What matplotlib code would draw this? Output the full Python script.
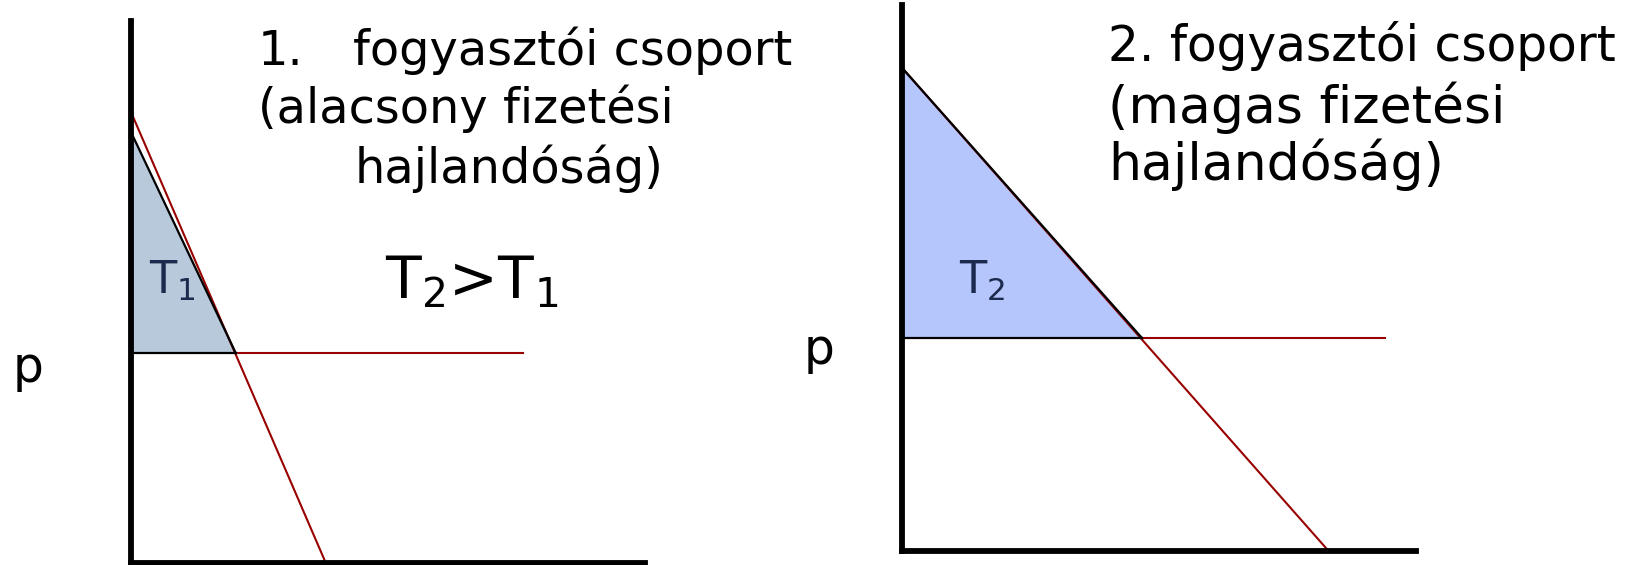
import matplotlib
matplotlib.use("Agg")
import matplotlib.pyplot as plt

plt.rcParams['font.family'] = ['DejaVu Sans']
plt.rcParams['mathtext.default'] = 'regular'

W, H = 1639, 565

# 1. fogyasztói csoport (alacsony fizetési hajlandóság)
kereslet1_q = [0, 3.79]
kereslet1_p = [8.32, 0]
hatar1_q = [0, 2.04]          # fogyasztói többlet felső éle
hatar1_p = [7.95, 3.87]
ar1 = 3.87
ar1_vege = 7.63

# 2. fogyasztói csoport (magas fizetési hajlandóság)
kereslet2_q = [0, 8.3]
kereslet2_p = [8.85, 0]
hatar2_q = [0, 4.67]
hatar2_p = [8.85, 3.90]
ar2 = 3.90
ar2_vege = 9.4

piros = "#990000"


def px(x, y):
    # pixel -> figure fraction
    return x / W, 1 - y / H


def panel(ax, kq, kp, hq, hp, ar, ar_vege, szin):
    ax.set_xlim(0, 10)
    ax.set_ylim(0, 10)
    ax.fill([0, 0, hq[1]], [hp[0], ar, ar], color=szin, lw=0, zorder=1)
    ax.plot(kq, kp, color=piros, lw=1.5, zorder=2)
    ax.plot([hq[1], ar_vege], [ar, ar], color=piros, lw=1.5, zorder=2)
    ax.plot([0, hq[1]], [ar, ar], color="black", lw=1.6, zorder=3)
    ax.plot(hq, hp, color="black", lw=1.6, zorder=3)
    for s in ["top", "right"]:
        ax.spines[s].set_visible(False)
    for s in ["left", "bottom"]:
        ax.spines[s].set_linewidth(4.2)
        ax.spines[s].set_capstyle("projecting")
    ax.set_xticks([])
    ax.set_yticks([])
    ax.patch.set_alpha(0)


fig = plt.figure(figsize=(W / 100, H / 100), dpi=100)

ax1 = fig.add_axes([131 / W, 1 - 563 / H, (645 - 131) / W, (563 - 21) / H])
panel(ax1, kereslet1_q, kereslet1_p, hatar1_q, hatar1_p, ar1, ar1_vege, "#b8c9dc")

ax2 = fig.add_axes([902 / W, 1 - 551 / H, (1416 - 902) / W, (551 - 5) / H])
panel(ax2, kereslet2_q, kereslet2_p, hatar2_q, hatar2_p, ar2, ar2_vege, "#b4c6fb")

# feliratok
fig.text(*px(258, 65), "1.", fontsize=34.5, va="baseline")
fig.text(*px(353, 65), "fogyasztói csoport", fontsize=34.5, va="baseline")
fig.text(*px(258, 123), "(alacsony fizetési", fontsize=34.5, va="baseline")
fig.text(*px(355, 183), "hajlandóság)", fontsize=34.5, va="baseline")
fig.text(*px(385, 298), "T$_2$>T$_1$", fontsize=42, va="baseline")

fig.text(*px(1108, 61), "2. fogyasztói csoport", fontsize=35, va="baseline")
fig.text(*px(1108, 123), "(magas fizetési", fontsize=37.5, va="baseline")
fig.text(*px(1108, 180), "hajlandóság)", fontsize=37.5, va="baseline")

fig.text(*px(149, 294), "T$_1$", fontsize=32, va="baseline", color="#1c2a4d")
fig.text(*px(959, 294), "T$_2$", fontsize=32, va="baseline", color="#1c2a4d")

fig.text(*px(13, 382), "p", fontsize=35, va="baseline")
fig.text(*px(804, 364), "p", fontsize=35, va="baseline")

fig.savefig("out.png", dpi=100)
